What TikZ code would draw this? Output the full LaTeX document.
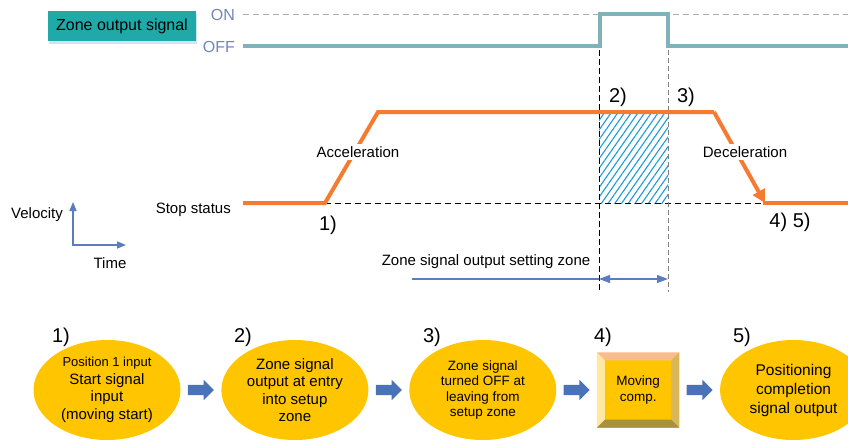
\documentclass[tikz,border=0pt]{standalone}
\usepackage{fontspec}
\setmainfont{Liberation Sans}
\usetikzlibrary{positioning,arrows.meta,shapes.geometric,shapes.arrows,patterns.meta,shadows}

\definecolor{zoneteal}{HTML}{1FA9A9}
\definecolor{zoneshade}{HTML}{CFE2F6}
\definecolor{sigteal}{HTML}{7FB3B9}
\definecolor{onoff}{HTML}{6F86B6}
\definecolor{speed}{HTML}{F47B2F}
\definecolor{axisblue}{HTML}{5A7DBD}
\definecolor{hatchblue}{HTML}{1B9AD6}
\definecolor{stepyellow}{HTML}{FFC600}
\definecolor{arrowblue}{HTML}{4A72B8}
\definecolor{bevtop}{HTML}{F9BC8C}
\definecolor{bevleft}{HTML}{FFE8A0}
\definecolor{bevright}{HTML}{D9B65A}
\definecolor{bevbottom}{HTML}{A8903E}

\begin{document}
\begin{tikzpicture}[x=1pt,y=-1pt,
			every node/.style={
				inner sep=0pt,
				font=\fontsize{15}{17.5}\selectfont
			},
			tag/.style={font=\fontsize{20}{22}\selectfont},
			stepoval/.style={
				ellipse,
				fill=stepyellow,
				minimum width=147pt,
				minimum height=100pt,
				align=center
			},
			flowarrow/.style={
				single arrow,
				fill=arrowblue,
				inner xsep=0pt,
				inner ysep=5pt,
				minimum height=26pt,
				single arrow head extend=5pt,
				single arrow tip angle=90
			},
			node distance=7pt]
			
			\clip (0,0) rectangle (848,439);
			
			\node(zone)[fill=zoneteal, minimum width=148pt, minimum height=30pt,
				drop shadow={fill=zoneshade, opacity=1, shadow xshift=1pt, shadow yshift=-3pt},
				font=\fontsize{16}{18}\selectfont] at (122,26){Zone output signal};
			
			\node(on)[anchor=east, text=onoff, font=\fontsize{16}{18}\selectfont] at (235,15){ON};
			
			\node(off)[anchor=east, text=onoff, font=\fontsize{16}{18}\selectfont] at (235,47){OFF};
			
			\coordinate(entry) at (599,50);
			
			\coordinate(exit) at (668,50);
			
			\draw[gray!65, line width=0.8pt, dash pattern=on 6pt off 4pt](243,14)--(848,14);
			
			\fill[pattern={Lines[angle=55,distance=5.5pt,line width=1.1pt]}, pattern color=hatchblue](599,114) rectangle (668,203);
			
			\draw[line width=0.8pt, dash pattern=on 6pt off 4pt](325,203)--(765,203);
			
			\draw[line width=0.9pt, dash pattern=on 6pt off 3pt](entry)--(599,292);
			
			\draw[gray, line width=0.7pt, dash pattern=on 5pt off 3pt](exit)--(668,292);
			
			\draw[sigteal, line width=4pt](243,46)--(599.5,46)--(599.5,14)--(668,14)--(668,46)--(848,46);
			
			\draw[speed, line width=4pt](243,203)--(325,203)--(378,112)--(714,112);
			
			\draw[speed, line width=4pt, -{Triangle[length=13pt,width=13pt]}](714,112)--(765,203);
			
			\draw[speed, line width=4pt](763,203)--(848,203);
			
			\node(acc)[fill=white, inner sep=2pt] at (358,152){Acceleration};
			
			\node(dec)[fill=white, inner sep=2pt] at (745,152){Deceleration};
			
			\node(t1)[tag] at (328,225){1)};
			
			\node(t2)[tag] at (618,97){2)};
			
			\node(t3)[tag] at (686,97){3)};
			
			\node(t45)[tag] at (790,222){4) 5)};
			
			\node(stop)[anchor=east] at (231,210){Stop status};
			
			\node(vel) at (37,215){Velocity};
			
			\node(time) at (110,263){Time};
			
			\draw[axisblue, line width=1.5pt, {Triangle[length=9pt,width=7pt]}-{Triangle[length=9pt,width=7pt]}](73,202)--(73,245)--(126,245);
			
			\node(setting) at (486,262){Zone signal output setting zone};
			
			\draw[axisblue, line width=1.2pt](412,279)--(599,279);
			
			\draw[axisblue, line width=1.2pt, {Triangle[length=11pt,width=8pt]}-{Triangle[length=11pt,width=8pt]}](599,279)--(668,279);
			
			\node(e1)[stepoval] at (107,390){{\fontsize{13}{15}\selectfont Position 1 input}\\Start signal\\input\\(moving start)};
			
			\node(a1)[flowarrow, right=of e1]{};
			
			\node(e2)[stepoval, right=of a1]{Zone signal\\output at entry\\into setup\\zone};
			
			\node(a2)[flowarrow, right=of e2]{};
			
			\node(e3)[stepoval, right=of a2, font=\fontsize{13.5}{15.5}\selectfont]{Zone signal\\turned OFF at\\leaving from\\setup zone};
			
			\node(a3)[flowarrow, right=of e3]{};
			
			\node(e4)[right=of a3, fill=stepyellow, minimum width=82pt, minimum height=75pt, align=center,
				font=\fontsize{13.5}{16}\selectfont]{Moving\\comp.};
			
			\fill[bevtop](e4.north west)--(e4.north east)--([shift={(-8pt,-8pt)}]e4.north east)--([shift={(8pt,-8pt)}]e4.north west)--cycle;
			
			\fill[bevleft](e4.north west)--([shift={(8pt,-8pt)}]e4.north west)--([shift={(8pt,8pt)}]e4.south west)--(e4.south west)--cycle;
			
			\fill[bevright](e4.north east)--(e4.south east)--([shift={(-8pt,8pt)}]e4.south east)--([shift={(-8pt,-8pt)}]e4.north east)--cycle;
			
			\fill[bevbottom](e4.south west)--([shift={(8pt,8pt)}]e4.south west)--([shift={(-8pt,8pt)}]e4.south east)--(e4.south east)--cycle;
			
			\node(a4)[flowarrow, right=of e4]{};
			
			\node(e5)[stepoval, right=of a4, font=\fontsize{15.5}{19}\selectfont]{Positioning\\completion\\signal output};
			
			\node(s1)[tag] at (61,337){1)};
			
			\node(s2)[tag] at (243,337){2)};
			
			\node(s3)[tag] at (432,337){3)};
			
			\node(s4)[tag] at (603,337){4)};
			
			\node(s5)[tag] at (742,337){5)};
			
		\end{tikzpicture}
\end{document}
